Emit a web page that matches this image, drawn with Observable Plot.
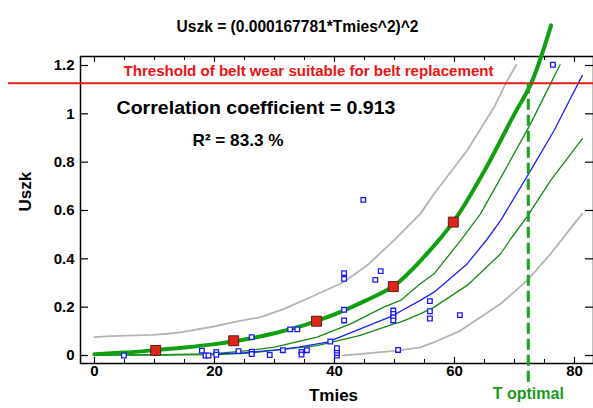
<!DOCTYPE html>
<html>
<head>
<meta charset="utf-8">
<script src="https://cdn.jsdelivr.net/npm/d3@7"></script>
<script src="https://cdn.jsdelivr.net/npm/@observablehq/plot@0.6"></script>
<style>
  html, body { margin: 0; padding: 0; background: #fff; }
  #chart { width: 593px; height: 408px; }
</style>
</head>
<body>
<div id="chart"></div>
<script>
// ---- data ----
const fitT = [0, 5, 10, 15, 20, 25, 30, 35, 40, 45, 50, 55, 60, 65, 70, 72.8, 76.1];
const fitU = [0.005, 0.012, 0.022, 0.033, 0.047, 0.066, 0.092, 0.126, 0.17, 0.225, 0.29, 0.41, 0.56, 0.765, 1.0, 1.127, 1.366];

const meanT = [10.2, 23.2, 37, 49.8, 59.8];
const meanU = [0.021, 0.061, 0.142, 0.285, 0.552];

const predUpT = [0, 2.7, 9.6, 12.3, 14.3, 19.9, 23.2, 27.7, 31.6, 36, 41.5, 45.4, 49.9, 54.3, 56.6, 62.1, 66.6, 68.8, 70.3];
const predUpU = [0.076, 0.08, 0.085, 0.09, 0.096, 0.12, 0.138, 0.159, 0.193, 0.241, 0.303, 0.372, 0.476, 0.586, 0.669, 0.848, 1.027, 1.138, 1.203];

const predLoT = [41.4, 45, 50.4, 54.3, 56.6, 61, 67.7, 72.1, 76, 80.4, 81.3];
const predLoU = [0, 0.008, 0.02, 0.034, 0.055, 0.103, 0.214, 0.31, 0.42, 0.559, 0.586];

const blueT = [20, 25, 30.4, 34, 38.8, 44.3, 49.9, 51, 54.3, 56.6, 62.1, 65.4, 67.7, 72.7, 76.6, 81.3];
const blueU = [0.006, 0.012, 0.023, 0.035, 0.055, 0.11, 0.166, 0.183, 0.228, 0.262, 0.379, 0.48, 0.559, 0.766, 0.931, 1.159];

const confUpT = [0, 10, 20, 26, 30, 37.1, 42.7, 48.2, 51, 54.3, 56.6, 61, 64.3, 67.7, 72.5, 76, 77.6];
const confUpU = [0.003, 0.003, 0.008, 0.021, 0.035, 0.076, 0.131, 0.2, 0.228, 0.297, 0.338, 0.475, 0.585, 0.735, 0.95, 1.124, 1.203];

const confLoT = [0, 10, 20, 26, 37.1, 44.3, 49.9, 51, 54.3, 56.6, 62.1, 67.7, 69.3, 72.1, 76, 81.3];
const confLoU = [0.002, 0.002, 0.004, 0.01, 0.041, 0.083, 0.131, 0.138, 0.172, 0.2, 0.29, 0.421, 0.48, 0.575, 0.724, 0.897];

const obsT = [4.9, 17.9, 18.5, 19.0, 20.3, 20.3, 24.0, 26.2, 26.2, 26.2, 29.2, 31.4, 32.6, 33.8, 34.5, 34.5, 35.4, 39.3, 40.4, 40.4, 40.4, 40.4, 41.6, 41.6, 41.6, 41.6, 44.8, 46.8, 47.7, 49.8, 49.8, 49.8, 49.8, 50.6, 55.9, 55.9, 55.9, 60.9, 76.4];
const obsU = [0.0, 0.02, 0.0, 0.0, 0.014, 0.003, 0.018, 0.076, 0.016, 0.006, 0.002, 0.022, 0.108, 0.108, 0.015, 0.004, 0.022, 0.058, 0.0, 0.01, 0.02, 0.03, 0.341, 0.317, 0.189, 0.145, 0.644, 0.313, 0.349, 0.186, 0.172, 0.158, 0.145, 0.023, 0.225, 0.183, 0.153, 0.167, 1.203];

const threshold = 1.127;
const tOptimal = 72.3;

const xTicksMajor = [0, 20, 40, 60, 80];
const xTicksMinor = [5, 10, 15, 25, 30, 35, 45, 50, 55, 65, 70, 75];
const yTicks = [0, 0.2, 0.4, 0.6, 0.8, 1, 1.2];

const titleText = "Uszk = (0.000167781*Tmies^2)^2";
const thresholdText = "Threshold of belt wear suitable for belt replacement";
const corrText = "Correlation coefficient = 0.913";
const r2Text = "R\u00b2 = 83.3 %";
const xLabel = "Tmies";
const yLabel = "Uszk";
const tOptLabel = "T optimal";

// ---- build tables ----
const zip = (a, b) => a.map((t, i) => ({t, u: b[i]}));
const fit = zip(fitT, fitU);
const means = zip(meanT, meanU);
const predUp = zip(predUpT, predUpU);
const predLo = zip(predLoT, predLoU);
const blue = zip(blueT, blueU);
const confUp = zip(confUpT, confUpU);
const confLo = zip(confLoT, confLoU);
const obs = zip(obsT, obsU);

const W = 593, H = 408, mL = 80, mR = 0, mT = 56, mB = 45;
const fw = W - mL - mR, fh = H - mT - mB;
const font = "'Liberation Sans', Arial, sans-serif";

const plot = Plot.plot({
  width: W, height: H,
  marginLeft: mL, marginRight: mR, marginTop: mT, marginBottom: mB,
  style: {fontFamily: font, fontSize: "15px", fontWeight: "bold", color: "black", background: "white"},
  x: {domain: [-2.333, 83.167]},
  y: {domain: [-0.0331, 1.2372]},
  marks: [
    Plot.axisX(xTicksMajor, {tickSize: 0, tickPadding: 2, label: null, fontSize: 15}),
    Plot.axisY(yTicks, {tickSize: 0, tickPadding: 6, label: null, fontSize: 15,
      tickFormat: d => String(+d.toFixed(1))}),
    // inward ticks on all four sides
    Plot.ruleX(xTicksMajor, {insetTop: fh - 6, stroke: "black", strokeWidth: 1.2}),
    Plot.ruleX(xTicksMinor, {insetTop: fh - 4, stroke: "black", strokeWidth: 1}),
    Plot.ruleX(xTicksMajor, {insetBottom: fh - 6, stroke: "black", strokeWidth: 1.2}),
    Plot.ruleX(xTicksMinor, {insetBottom: fh - 4, stroke: "black", strokeWidth: 1}),
    Plot.ruleY(yTicks, {insetRight: fw - 8, stroke: "black", strokeWidth: 1.2}),
    Plot.ruleY(yTicks, {insetLeft: fw - 8, stroke: "black", strokeWidth: 1.2}),
    Plot.frame({stroke: "black", strokeWidth: 1.5}),
    // bands
    Plot.line(predUp, {x: "t", y: "u", stroke: "#b4b4b4", strokeWidth: 1.8}),
    Plot.line(predLo, {x: "t", y: "u", stroke: "#b4b4b4", strokeWidth: 1.8}),
    Plot.line(confUp, {x: "t", y: "u", stroke: "#138a13", strokeWidth: 1.3}),
    Plot.line(confLo, {x: "t", y: "u", stroke: "#138a13", strokeWidth: 1.3}),
    Plot.line(blue, {x: "t", y: "u", stroke: "#1a22ff", strokeWidth: 1.3}),
    Plot.line(fit, {x: "t", y: "u", stroke: "#0f9f0f", strokeWidth: 4, curve: "catmull-rom"}),
    // observations
    Plot.dot(obs, {x: "t", y: "u", symbol: "square", r: 2.6, stroke: "#1818ff", strokeWidth: 1.3, fill: "white"}),
    Plot.dot(means, {x: "t", y: "u", symbol: "square", r: 5.6, fill: "#e0261a", stroke: "#5a1c14", strokeWidth: 1}),
    // threshold and optimum
    Plot.ruleY([threshold], {insetLeft: -72, stroke: "#e81818", strokeWidth: 2}),
    Plot.ruleX([tOptimal], {y1: threshold, y2: -0.0331, insetBottom: -24, stroke: "#1aa01a", strokeWidth: 3, strokeDasharray: "11,5"}),
    // annotations
    Plot.text([thresholdText], {y: () => threshold, frameAnchor: "left", textAnchor: "start", dx: 43, dy: -12,
      fill: "#ee1111", fontSize: 14, fontWeight: "bold"}),
    Plot.text([corrText], {frameAnchor: "top-left", textAnchor: "start", dx: 36, dy: 45, fontSize: 18, fontWeight: "bold", fill: "black"}),
    Plot.text([r2Text], {frameAnchor: "top-left", textAnchor: "start", dx: 112, dy: 77, fontSize: 17, fontWeight: "bold", fill: "black"}),
    Plot.text([titleText], {frameAnchor: "top-left", textAnchor: "start", dx: 96, dy: -36, fontSize: 16, fontWeight: "bold", fill: "black"}),
    Plot.text([xLabel], {frameAnchor: "bottom", dx: -3.5, dy: 37, fontSize: 17, fontWeight: "bold", fill: "black"}),
    Plot.text([yLabel], {frameAnchor: "left", rotate: -90, dx: -55, dy: 1.5, fontSize: 17, fontWeight: "bold", fill: "black"}),
    Plot.text([tOptimal], {x: d => d, text: () => tOptLabel, frameAnchor: "bottom", dy: 35, fontSize: 16, fontWeight: "bold", fill: "#1a9a1a"})
  ]
});
document.getElementById("chart").appendChild(plot);

// fit annotation text widths to the reference
const targetWidths = new Map([[titleText, 242], [thresholdText, 370], [corrText, 279], [r2Text, 91]]);
d3.select(plot).selectAll("text")
  .filter(function() { return targetWidths.has(this.textContent); })
  .each(function() {
    d3.select(this).attr("textLength", targetWidths.get(this.textContent)).attr("lengthAdjust", "spacingAndGlyphs");
  });
</script>
</body>
</html>
